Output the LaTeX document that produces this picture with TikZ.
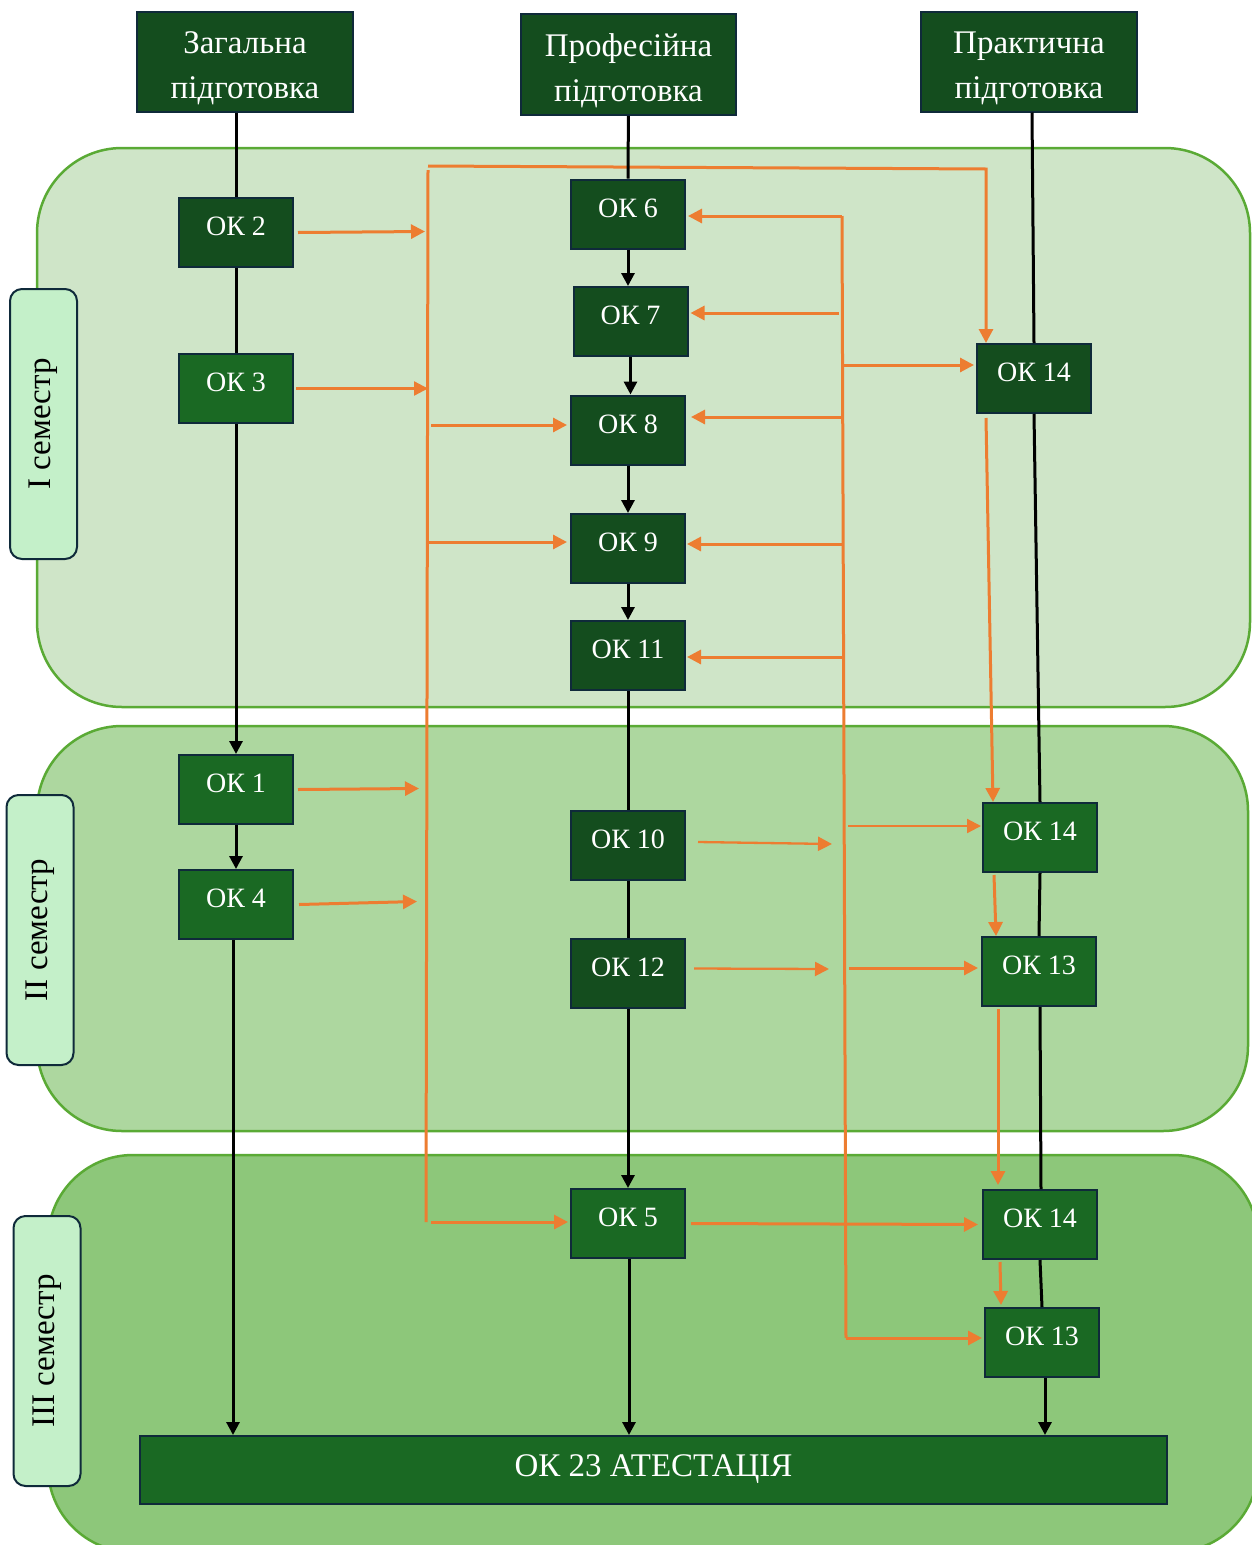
\documentclass[tikz,border=0pt]{standalone}
\usepackage{fontspec}
\setmainfont{Liberation Serif}
\usetikzlibrary{arrows.meta,calc}
\definecolor{pA}{HTML}{CFE5C8}
\definecolor{pB}{HTML}{ADD79F}
\definecolor{pC}{HTML}{8DC77A}
\definecolor{pline}{HTML}{5AAA35}
\definecolor{semfill}{HTML}{C4F0C9}
\definecolor{navy}{HTML}{0F2A3A}
\definecolor{dk}{HTML}{144D1E}
\definecolor{md}{HTML}{1A6923}
\definecolor{org}{HTML}{ED7D31}
\newcommand{\hdrtext}[2]{\raisebox{0pt}[\dimexpr\height+10pt\relax][\depth]{\begin{tabular}{@{}c@{}}#1\\#2\end{tabular}}}
\begin{document}
\begin{tikzpicture}[x=1pt,y=-1pt,
  panel/.style={draw=pline,line width=2.5pt,rounded corners=85pt},
  sem/.style={draw=navy,fill=semfill,line width=2pt,rounded corners=12pt,rotate=90,
    minimum width=270pt,minimum height=67pt,inner sep=0pt,font=\fontsize{33}{38}\selectfont},
  hdr/.style={draw=navy,line width=2pt,fill=dk,text=white,inner sep=0pt,
    font=\fontsize{33}{45}\selectfont},
  okbox/.style={draw=navy,line width=2pt,text=white,inner sep=0pt,
    minimum width=114pt,minimum height=69pt,text height=20pt,text depth=14pt,
    font=\fontsize{28}{32}\selectfont},
  okd/.style={okbox,fill=dk},
  okm/.style={okbox,fill=md},
  bl/.style={draw=black,line width=3pt},
  bla/.style={bl,-{Triangle[length=13pt,width=13pt]}},
  obus/.style={draw=org,line width=3pt},
  oar/.style={obus,-{Triangle[length=14pt,width=14pt]}},
  oart/.style={draw=org,line width=2.3pt,-{Triangle[length=14pt,width=14pt]}}
]
\useasboundingbox (0,0) rectangle (1252,1545);
% panels
\draw[panel,fill=pA] (37,148) rectangle (1250,707);
\draw[panel,fill=pB] (37,726) rectangle (1248,1131);
\draw[panel,fill=pC] (48,1155) rectangle (1258,1552);
% semester labels
\node[sem] (s1) at (43.5,424) {I семестр};
\node[sem] (s2) at (40,930) {II семестр};
\node[sem] (s3) at (47,1351) {III семестр};
% headers
\node[hdr,minimum width=216pt,minimum height=99pt] (hz) at (245,61.5) {\hdrtext{Загальна}{підготовка}};
\node[hdr,minimum width=215pt,minimum height=101pt] (hp) at (628.5,64.5) {\hdrtext{Професійна}{підготовка}};
\node[hdr,minimum width=216pt,minimum height=97pt] (hpr) at (1029,61.5) {\hdrtext{Практична}{підготовка}};
% boxes
\node[okd] (ok2) at (236,232.5) {ОК 2};
\node[okm] (ok3) at (236,388.5) {ОК 3};
\node[okd] (ok6) at (628,214) {ОК 6};
\node[okd] (ok7) at (630.5,321.5) {ОК 7};
\node[okd] (ok8) at (628,430) {ОК 8};
\node[okd] (ok9) at (628,548.5) {ОК 9};
\node[okd] (ok11) at (628,655.5) {ОК 11};
\node[okd] (ok14a) at (1034,378.5) {ОК 14};
\node[okm] (ok1) at (236,789.5) {ОК 1};
\node[okm] (ok4) at (236,904.5) {ОК 4};
\node[okd] (ok10) at (628,845) {ОК 10};
\node[okd] (ok12) at (628,973.5) {ОК 12};
\node[okm] (ok14b) at (1040,837.5) {ОК 14};
\node[okm] (ok13a) at (1039,971.5) {ОК 13};
\node[okm] (ok5) at (628,1223.5) {ОК 5};
\node[okm] (ok14c) at (1040,1224.5) {ОК 14};
\node[okm] (ok13b) at (1042,1342.5) {ОК 13};
\node[okm,minimum width=1027pt,minimum height=68pt,text height=22pt,text depth=10pt,font=\fontsize{33}{37}\selectfont] (ok23) at (653.5,1470) {ОК 23 АТЕСТАЦІЯ};
% orange buses
\coordinate (LT) at (428,166);
\coordinate (LB) at (426,1222);
\coordinate (TR) at (986,169);
\coordinate (RT) at (842,216);
\coordinate (RB) at (846,1338);
\draw[obus] (428,170) -- (LB);
\draw[oar] (LT) -- (TR) -- (TR |- ok14a.north);
\draw[obus] (RT) -- (RB);
% into left bus
\draw[oar] ([xshift=4pt]ok2.east) -- ($(LT |- ok2.east)+(-3,-1)$);
\draw[oart] ([xshift=2pt]ok3.east) -- ($(LT |- ok3.east)+(0,0)$);
\draw[oar] ([xshift=4pt]ok1.east) -- ($(LB |- ok1.east)+(-7,-1)$);
\draw[oar] ([xshift=5pt]ok4.east) -- ($(LB |- ok4.east)+(-9,-3)$);
% out of left bus
\coordinate (l8) at (431,425);
\coordinate (l9) at (428,542);
\draw[oar] (l8) -- ([xshift=-3pt]l8 -| ok8.west);
\draw[oar] (l9) -- ([xshift=-3pt]l9 -| ok9.west);
\draw[oar] ([xshift=5pt]LB) -- ([xshift=-2pt]LB -| ok5.west);
% out of right bus (left side)
\coordinate (r7) at (839,313);
\coordinate (r8) at (842,417);
\coordinate (r9) at (842,544);
\coordinate (r11) at (842,657);
\draw[oar] (RT) -- ([xshift=2pt]RT -| ok6.east);
\draw[oar] (r7) -- ([xshift=2pt]r7 -| ok7.east);
\draw[oar] (r8) -- ([xshift=5pt]r8 -| ok8.east);
\draw[oar] (r9) -- ([xshift=1pt]r9 -| ok9.east);
\draw[oar] (r11) -- ([xshift=1pt]r11 -| ok11.east);
% out of right bus (right side)
\coordinate (q14a) at (843,365);
\coordinate (q14b) at (848,826);
\coordinate (q13a) at (849,968);
\draw[oar] (q14a) -- ([xshift=-2pt]q14a -| ok14a.west);
\draw[oart] (q14b) -- ([xshift=-1pt]q14b -| ok14b.west);
\draw[oar] (q13a) -- ([xshift=-3pt]q13a -| ok13a.west);
\draw[oar] (RB) -- ([xshift=-2pt]RB -| ok13b.west);
% middle to right bus
\coordinate (t10) at (832,844);
\coordinate (t12) at (829,969);
\draw[oart] ($(ok10.east)+(12,-3)$) -- (t10);
\draw[oart] ($(ok12.east)+(8,-5)$) -- (t12);
\draw[oar] ([xshift=5pt]ok5.east) -- ([xshift=-4pt]ok14c.west);
% practical column orange
\draw[oar] ($(ok14a.south west)+(10,4)$) -- ($(ok14b.north west)+(11,0)$);
\draw[oar] ($(ok14b.south west)+(12,2)$) -- ($(ok13a.north west)+(15,0)$);
\draw[oar] ($(ok13a.south west)+(17,2)$) -- ($(ok14c.north west)+(16,-4)$);
\draw[oar] ($(ok14c.south west)+(18,2)$) -- ($(ok13b.north west)+(17,-2)$);
% black lines
\draw[bl] (ok2.north |- hz.south) -- (ok2.north);
\draw[bl] (ok2) -- (ok3);
\draw[bla] (ok3) -- (ok1);
\draw[bla] (ok1) -- (ok4);
\draw[bla] ([xshift=-3pt]ok4.south) -- ([xshift=-3pt]ok4.south |- ok23.north);
\draw[bl] (hp) -- (ok6);
\draw[bla] (ok6.south) -- (ok7.north -| ok6.south);
\draw[bla] (ok7.south) -- (ok8.north -| ok7.south);
\draw[bla] (ok8) -- (ok9);
\draw[bla] (ok9) -- (ok11);
\draw[bl] (ok11) -- (ok10);
\draw[bl] (ok10) -- (ok12);
\draw[bla] (ok12) -- (ok5);
\draw[bla] ([xshift=1pt]ok5.south) -- ([xshift=1pt]ok5.south |- ok23.north);
\draw[bl] ([xshift=3pt]hpr.south) -- (ok14a.north);
\draw[bl] (ok14a.south) -- (ok14b.north);
\draw[bl] (ok14b.south) -- (ok13a.north);
\draw[bl] ([xshift=1pt]ok13a.south) -- ([xshift=1pt]ok14c.north);
\draw[bl] (ok14c.south) -- (ok13b.north);
\draw[bla] ([xshift=3pt]ok13b.south) -- ([xshift=3pt]ok13b.south |- ok23.north);
\end{tikzpicture}
\end{document}
